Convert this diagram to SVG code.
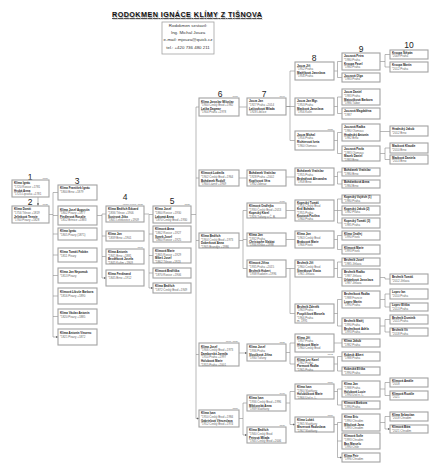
<svg xmlns="http://www.w3.org/2000/svg" width="438" height="471" viewBox="0 0 438 471">
<defs>
<marker id="ar" markerWidth="2.4" markerHeight="2.4" refX="2.2" refY="1.2" orient="auto" markerUnits="userSpaceOnUse"><path d="M0,0L2.4,1.2L0,2.4z" fill="#666"/></marker>
</defs>
<style>
.bx{fill:#fff;stroke:#a2a2a2;stroke-width:1.1}
.t{font-family:"Liberation Sans",Arial,sans-serif;font-size:2.9px;fill:#666}
.b{font-weight:bold;fill:#222}
.num{font-family:"Liberation Sans",Arial,sans-serif;font-size:8.5px;fill:#222;text-anchor:middle}
.yr{font-family:"Liberation Sans",Arial,sans-serif;font-size:2.5px;fill:#777;text-anchor:end}
.c{fill:none;stroke:#8a8a8a;stroke-width:0.6}
.a{fill:none;stroke:#8a8a8a;stroke-width:0.6;marker-end:url(#ar)}
.ttl{font-family:"Liberation Sans",Arial,sans-serif;font-size:7.2px;font-weight:bold;text-anchor:middle;text-decoration:underline}
.inf{font-family:"Liberation Sans",Arial,sans-serif;font-size:4.4px;fill:#333;text-anchor:middle}
</style>
<rect width="438" height="471" fill="#fff"/>
<g id="title">
<text class="ttl" x="187.8" y="17.8" fill="#bbb" textLength="150">RODOKMEN IGNÁCE KLÍMY Z TIŠNOVA</text>
<text class="ttl" x="187" y="17" fill="#111" textLength="150">RODOKMEN IGNÁCE KLÍMY Z TIŠNOVA</text>
</g>
<g id="info">
<rect x="162" y="22" width="52" height="32" fill="#fff" stroke="#a2a2a2" stroke-width="0.8"/>
<text class="inf" x="188" y="27">Rodokmen sestavil:</text>
<text class="inf" x="188" y="34">Ing. Michal Jouza</text>
<text class="inf" x="188" y="41">e-mail: mjouza@quick.cz</text>
<text class="inf" x="188" y="48.5">tel.: +420 736 480 211</text>
</g>
<g id="numbers">
<text class="num" x="30" y="179.5">1</text>
<text class="num" x="30" y="205">2</text>
<text class="num" x="77" y="184">3</text>
<text class="num" x="125" y="200">4</text>
<text class="num" x="172" y="204">5</text>
<text class="num" x="220" y="97">6</text>
<text class="num" x="264" y="97">7</text>
<text class="num" x="314" y="61">8</text>
<text class="num" x="361" y="51.5">9</text>
<text class="num" x="409" y="48">10</text>
</g>
<g id="years">
<text class="yr" x="48" y="178.5">1750</text>
<text class="yr" x="48" y="204.8">1785</text>
<text class="yr" x="143" y="204.6">Ignác Klíma, 1885</text>
<text class="yr" x="143" y="247.6">1871</text>
<text class="yr" x="190" y="205">1820</text>
<text class="yr" x="238" y="97">1651</text>
<text class="yr" x="285" y="97">1690</text>
<text class="yr" x="285" y="201.6">1950</text>
<text class="yr" x="238" y="341.6">1811, 1820</text>
<text class="yr" x="285" y="342.6">1821</text>
<text class="yr" x="238" y="408.6">1850</text>
<text class="yr" x="285" y="393.6">1900</text>
<text class="yr" x="285" y="425.6">1830</text>
<text class="yr" x="333" y="129.6">1855</text>
<text class="yr" x="333" y="355.4">1812</text>
<text class="yr" x="333" y="382.6">1850</text>
<text class="yr" x="333" y="415.6">1850</text>
</g>
<g id="connectors">
<path class="a" d="M38 197V205.5"/>
<path class="c" d="M49 214.5H53M53 192.5V337"/>
<path class="a" d="M53 192.5H58M53 215.5H58M53 234H58M53 255H58M53 275.5H58M53 296H58M53 316.5H58M53 337H58"/>
<path class="c" d="M97 215.5H102M102 214V278"/>
<path class="a" d="M102 214H106M102 236H106M102 256.5H106M102 278H106"/>
<path class="c" d="M144 214H149M149 214.5V288"/>
<path class="a" d="M149 214.5H153M149 234H153M149 255.5H153M149 273H153M149 288H153"/>
<path class="c" d="M191 214.5H196M196 107V418.5"/>
<path class="a" d="M196 107H199M196 178H199M196 240.5H199M196 354.5H199M196 418.5H199"/>
<path class="a" d="M239 107H247M239 178H247M239 353H247"/>
<path class="c" d="M239 240.5H243M243 210.5V268.5M239 418.5H243M243 403V435"/>
<path class="a" d="M243 210.5H247M243 268.5H247M243 403H247M243 435H247"/>
<path class="c" d="M286 106.5H290M290 71V140.5M286 268.5H290M290 268.5V313.5M286 352.5H290M290 343V364M286 403H290M290 391.5V424.5"/>
<path class="a" d="M290 71H295M290 140.5H295M243 239.5H247M286 106.5H295M286 177H295M286 210.5H295M286 239.5H295M290 268.5H295M290 313.5H295M290 343H295M290 364H295M290 391.5H295M290 424.5H295"/>
<path class="c" d="M334 71H337.5M337.5 61.5V77.5M334 106.5H337.5M337.5 97V113.5M334 140.5H337.5M337.5 132.5V153.5M334 176.5H337.5M337.5 172V184M334 210.5H337.5M337.5 199V223M334 239.5H337.5M337.5 235.5V249.5M334 268.5H337.5M337.5 262V277.5M334 313.5H337.5M337.5 299.5V326M334 364H337.5M337.5 356.5V371M334 391.5H337.5M337.5 389V405M334 424.5H337.5M337.5 422.5V457.5"/>
<path class="a" d="M337.5 61.5H342M337.5 77.5H342M337.5 97H342M337.5 113.5H342M337.5 132.5H342M337.5 153.5H342M337.5 172H342M337.5 184H342M337.5 199H342M337.5 210.5H342M337.5 223H342M337.5 235.5H342M337.5 249.5H342M337.5 262H342M337.5 277.5H342M337.5 299.5H342M337.5 326H342M334 343H342M337.5 356.5H342M337.5 371H342M337.5 389H342M337.5 405H342M337.5 422.5H342M337.5 441H342M337.5 457.5H342"/>
<path class="c" d="M380 61.5H385M385 54.5V67M380 153.5H385M385 148V159.5M380 299.5H385M385 294V307M380 326H385M385 319.5V332M380 389H385M385 382.5V395.5M380 422.5H385M385 416.5V429M380 277.5H385M385 277.5V279"/>
<path class="a" d="M385 54.5H390M385 67H390M380 131.5H390M385 148H390M385 159.5H390M385 279H390M385 294H390M385 307H390M385 319.5H390M385 332H390M385 382.5H390M385 395.5H390M385 416.5H390M385 429H390"/>
</g>
<g id="n1" transform="translate(12,180)"><rect class="bx" width="37" height="17"/><text class="t" y="4.3"><tspan class="b" x="2">Klíma Ignác</tspan><tspan x="2" dy="3.6">*1720 Rosice +1781</tspan><tspan class="b" x="2" dy="3.6">Hrubá Anna</tspan><tspan x="2" dy="3.6">*1725 Lipůvka +1781</tspan></text></g>
<g id="n2" transform="translate(12,206)"><rect class="bx" width="37" height="17"/><text class="t" y="4.3"><tspan class="b" x="2">Klíma Donát</tspan><tspan x="2" dy="3.6">*1756 Tišnov +1819</tspan><tspan class="b" x="2" dy="3.6">Jelínková Terezie</tspan><tspan x="2" dy="3.6">*1760 Pisary +1828</tspan></text></g>
<g id="n3a" transform="translate(58,185)"><rect class="bx" width="39" height="15"/><text class="t" y="4.3"><tspan class="b" x="2">Klíma František Ignác</tspan><tspan x="2" dy="3.6">*1800 Brno +1879</tspan></text></g>
<g id="n3b" transform="translate(58,206)"><rect class="bx" width="39" height="19"/><text class="t" y="4.5"><tspan class="b" x="2">Klíma Josef Augustin</tspan><tspan x="2" dy="3.6">*1802 Pisary +1877</tspan><tspan class="b" x="2" dy="3.6">Fiedlerová Rosalie</tspan><tspan x="2" dy="3.6">*1812 Brtnice +1883</tspan></text></g>
<g id="n3c" transform="translate(58,228)"><rect class="bx" width="39" height="12"/><text class="t" y="4.3"><tspan class="b" x="2">Klíma Ignác</tspan><tspan x="2" dy="3.6">*1805 Pisary (1871)</tspan></text></g>
<g id="n3d" transform="translate(58,248)"><rect class="bx" width="39" height="14"/><text class="t" y="5.3"><tspan class="b" x="2">Klíma Tomáš Fabián</tspan><tspan x="2" dy="3.6">*1811 Pisary</tspan></text></g>
<g id="n3e" transform="translate(58,268)"><rect class="bx" width="39" height="15"/><text class="t" y="5.3"><tspan class="b" x="2">Klíma Jan Nepomuk</tspan><tspan x="2" dy="3.6">*1813 Pisary</tspan></text></g>
<g id="n3f" transform="translate(58,288)"><rect class="bx" width="39" height="16"/><text class="t" y="5.3"><tspan class="b" x="2">Klímová Libuše Barbora</tspan><tspan x="2" dy="3.6">*1816 Pisary +1890</tspan></text></g>
<g id="n3g" transform="translate(58,309)"><rect class="bx" width="39" height="15"/><text class="t" y="5.3"><tspan class="b" x="2">Klíma Václav Antonín</tspan><tspan x="2" dy="3.6">*1820 Pisary +1885</tspan></text></g>
<g id="n3h" transform="translate(58,329)"><rect class="bx" width="39" height="16"/><text class="t" y="5.3"><tspan class="b" x="2">Klíma Antonín Vincenc</tspan><tspan x="2" dy="3.6">*1821 Pisary +1872</tspan></text></g>
<g id="n4a" transform="translate(106,206)"><rect class="bx" width="38" height="16"/><text class="t" y="4.3"><tspan class="b" x="2">Klíma Bedřich Eduard</tspan><tspan x="2" dy="3.6">*1836 Tišnov +1906</tspan><tspan class="b" x="2" dy="3.6">Šustrová Jitka</tspan><tspan x="2" dy="3.6">*1841 Lelekovice +1909</tspan></text></g>
<g id="n4b" transform="translate(106,231)"><rect class="bx" width="38" height="10"/><text class="t" y="4.3"><tspan class="b" x="2">Klíma Jan</tspan><tspan x="2" dy="3.6">*1839 Brno +1901</tspan></text></g>
<g id="n4c" transform="translate(106,249)"><rect class="bx" width="38" height="15"/><text class="t" y="4"><tspan class="b" x="2">Klíma Antonín</tspan><tspan x="2" dy="3.5">*1841 Brno +1881</tspan><tspan class="b" x="2" dy="3.5">Bezděková Josefa</tspan><tspan x="2" dy="3.5">*1845 Kuřim +1909</tspan></text></g>
<g id="n4d" transform="translate(106,270)"><rect class="bx" width="38" height="16"/><text class="t" y="5.3"><tspan class="b" x="2">Klíma Ferdinand</tspan><tspan x="2" dy="3.6">*1845 Brno +1912</tspan></text></g>
<g id="n5a" transform="translate(153,206)"><rect class="bx" width="38" height="17"/><text class="t" y="4.3"><tspan class="b" x="2">Klíma Josef</tspan><tspan x="2" dy="3.6">*1860 Rosice +1930</tspan><tspan class="b" x="2" dy="3.6">Lakomá Anna</tspan><tspan x="2" dy="3.6">*1870 Český Brod +1930</tspan></text></g>
<g id="n5b" transform="translate(153,226)"><rect class="bx" width="38" height="16"/><text class="t" y="4.3"><tspan class="b" x="2">Klímová Anna</tspan><tspan x="2" dy="3.6">*1862 Rosice +1927</tspan><tspan class="b" x="2" dy="3.6">Synek Josef</tspan><tspan x="2" dy="3.6">*1860 Rosice +1925</tspan></text></g>
<g id="n5c" transform="translate(153,248)"><rect class="bx" width="38" height="15"/><text class="t" y="4"><tspan class="b" x="2">Klímová Marie</tspan><tspan x="2" dy="3.5">*1865 Rosice +1929</tspan><tspan class="b" x="2" dy="3.5">Mikeš Josef</tspan><tspan x="2" dy="3.5">*1862 Tišnov +1923</tspan></text></g>
<g id="n5d" transform="translate(153,268)"><rect class="bx" width="38" height="10"/><text class="t" y="4.3"><tspan class="b" x="2">Klímová Bedřiška</tspan><tspan x="2" dy="3.6">*1870 Rosice +1906</tspan></text></g>
<g id="n5e" transform="translate(153,283)"><rect class="bx" width="38" height="10"/><text class="t" y="4.3"><tspan class="b" x="2">Klíma Bedřich</tspan><tspan x="2" dy="3.6">*1872 Český Brod +1949</tspan></text></g>
<g id="n6a" transform="translate(199,98)"><rect class="bx" width="40" height="18"/><text class="t" y="4.6"><tspan class="b" x="2">Klíma Jaroslav Miloslav</tspan><tspan x="2" dy="3.6">*1900 Český Brod +1982</tspan><tspan class="b" x="2" dy="3.6">Laška Dagmar</tspan><tspan x="2" dy="3.6">*1904 Praha +1978</tspan></text></g>
<g id="n6b" transform="translate(199,170)"><rect class="bx" width="40" height="16"/><text class="t" y="4.3"><tspan class="b" x="2">Klímová Ludmila</tspan><tspan x="2" dy="3.6">*1902 Český Brod +1964</tspan><tspan class="b" x="2" dy="3.6">Bohdanek Rudolf</tspan><tspan x="2" dy="3.6">*1900 Lázně +1969</tspan></text></g>
<g id="n6c" transform="translate(199,233)"><rect class="bx" width="40" height="15"/><text class="t" y="4"><tspan class="b" x="2">Klíma Bedřich</tspan><tspan x="2" dy="3.5">*1904 Český Brod +1973</tspan><tspan class="b" x="2" dy="3.5">Doberková Anna</tspan><tspan x="2" dy="3.5">*1905 Brandýs +1986</tspan></text></g>
<g id="n6d" transform="translate(199,343)"><rect class="bx" width="40" height="23"/><text class="t" y="4.6"><tspan class="b" x="2">Klíma Josef</tspan><tspan x="2" dy="3.6">*1906 Český Brod +1973</tspan><tspan class="b" x="2" dy="3.6">Damborská Jarmila</tspan><tspan x="2" dy="3.6">*1910 Praha +1997</tspan><tspan class="b" x="2" dy="3.6">Holubová Marie</tspan><tspan x="2" dy="3.6">*1915 Praha +2001</tspan></text></g>
<g id="n6e" transform="translate(199,410)"><rect class="bx" width="40" height="17"/><text class="t" y="4.3"><tspan class="b" x="2">Klíma Ivan</tspan><tspan x="2" dy="3.6">*1910 Český Brod +1984</tspan><tspan class="b" x="2" dy="3.6">Gabrielová Věnceslava</tspan><tspan x="2" dy="3.6">*1912 Český Brod +1974</tspan></text></g>
<g id="n7a" transform="translate(247,98)"><rect class="bx" width="39" height="17"/><text class="t" y="4.3"><tspan class="b" x="2">Jouza Jan</tspan><tspan x="2" dy="3.6">*1927 Praha +2014</tspan><tspan class="b" x="2" dy="3.6">Laštovková Milada</tspan><tspan x="2" dy="3.6">*1928 Libčice</tspan></text></g>
<g id="n7b" transform="translate(247,170)"><rect class="bx" width="39" height="16"/><text class="t" y="4.3"><tspan class="b" x="2">Bohdanek Vratislav</tspan><tspan x="2" dy="3.6">*1928 Praha +2002</tspan><tspan class="b" x="2" dy="3.6">Kopřivová Věra</tspan><tspan x="2" dy="3.6">*1932 Zderaz</tspan></text></g>
<g id="n7c" transform="translate(247,203)"><rect class="bx" width="39" height="15"/><text class="t" y="4"><tspan class="b" x="2">Klímová Ondřejka</tspan><tspan x="2" dy="3.5">*1930 Český Brod +2013</tspan><tspan class="b" x="2" dy="3.5">Kopecký Karel</tspan><tspan x="2" dy="3.5">*1926 Tuřany u Č. B.</tspan></text></g>
<g id="n7d" transform="translate(247,233)"><rect class="bx" width="39" height="13"/><text class="t" y="3.4"><tspan class="b" x="2">Klíma Jan</tspan><tspan x="2" dy="3.1">*1932 Praha</tspan><tspan class="b" x="2" dy="3.1">Christophe Slabiat</tspan><tspan x="2" dy="3.1">*1936 Krško +1998</tspan></text></g>
<g id="n7e" transform="translate(247,260)"><rect class="bx" width="39" height="17"/><text class="t" y="4.3"><tspan class="b" x="2">Klímová Jiřina</tspan><tspan x="2" dy="3.6">*1935 Praha +2015</tspan><tspan class="b" x="2" dy="3.6">Bechník Hubert</tspan><tspan x="2" dy="3.6">*1938 Radotín +1996</tspan></text></g>
<g id="n7f" transform="translate(247,344)"><rect class="bx" width="39" height="17"/><text class="t" y="4.3"><tspan class="b" x="2">Klíma Josef</tspan><tspan x="2" dy="3.6">*1936 Praha</tspan><tspan class="b" x="2" dy="3.6">Sloučková Jiřina</tspan><tspan x="2" dy="3.6">*1930 Tuřany</tspan></text></g>
<g id="n7g" transform="translate(247,395)"><rect class="bx" width="39" height="16"/><text class="t" y="4.3"><tspan class="b" x="2">Klíma Ivan</tspan><tspan x="2" dy="3.6">*1936 Český Brod +1996</tspan><tspan class="b" x="2" dy="3.6">Mikšovská Anna</tspan><tspan x="2" dy="3.6">*1939 Slatiňany</tspan></text></g>
<g id="n7h" transform="translate(247,427)"><rect class="bx" width="39" height="16"/><text class="t" y="4.3"><tspan class="b" x="2">Klíma Bedřich</tspan><tspan x="2" dy="3.6">*1940 Český Brod</tspan><tspan class="b" x="2" dy="3.6">Petrová Milada</tspan><tspan x="2" dy="3.6">*1945 Český Brod +2006</tspan></text></g>
<g id="n8a" transform="translate(295,62)"><rect class="bx" width="39" height="18"/><text class="t" y="4.6"><tspan class="b" x="2">Jouza Jiří</tspan><tspan x="2" dy="3.6">*1952 Praha</tspan><tspan class="b" x="2" dy="3.6">Matějková Jaroslava</tspan><tspan x="2" dy="3.6">*1956 Praha</tspan></text></g>
<g id="n8b" transform="translate(295,98)"><rect class="bx" width="39" height="17"/><text class="t" y="4.3"><tspan class="b" x="2">Jouza Jan Mgr.</tspan><tspan x="2" dy="3.6">*1953 Praha</tspan><tspan class="b" x="2" dy="3.6">Masková Jaroslava</tspan><tspan x="2" dy="3.6">*1956 Kolín</tspan></text></g>
<g id="n8c" transform="translate(295,131)"><rect class="bx" width="39" height="19"/><text class="t" y="4.6"><tspan class="b" x="2">Jouza Michal</tspan><tspan x="2" dy="3.7">*1956 Praha</tspan><tspan class="b" x="2" dy="3.7">Richterová Iveta</tspan><tspan x="2" dy="3.7">*1960 Olomouc</tspan></text></g>
<g id="n8d" transform="translate(295,168)"><rect class="bx" width="39" height="17"/><text class="t" y="4.3"><tspan class="b" x="2">Bohdanek Vratislav</tspan><tspan x="2" dy="3.6">*1955 Praha</tspan><tspan class="b" x="2" dy="3.6">Bednářová Alexandra</tspan><tspan x="2" dy="3.6">*1958 Brno</tspan></text></g>
<g id="n8e" transform="translate(295,200)"><rect class="bx" width="39" height="21"/><text class="t" y="3.6"><tspan class="b" x="2">Kopecký Tomáš</tspan><tspan x="2" dy="3.3">*1956 Český Brod</tspan><tspan class="b" x="2" dy="3.3">Král Bohdan</tspan><tspan x="2" dy="3.3">*1955 Praha</tspan><tspan class="b" x="2" dy="3.3">Koutová Pavlína</tspan><tspan x="2" dy="3.3">*1960 Praha</tspan></text></g>
<g id="n8f" transform="translate(295,231)"><rect class="bx" width="39" height="17"/><text class="t" y="4.3"><tspan class="b" x="2">Klíma Jan</tspan><tspan x="2" dy="3.6">*1963 Český Brod</tspan><tspan class="b" x="2" dy="3.6">Brabcová Marie</tspan><tspan x="2" dy="3.6">*1966 Písek</tspan></text></g>
<g id="n8g" transform="translate(295,260)"><rect class="bx" width="39" height="17"/><text class="t" y="4.3"><tspan class="b" x="2">Bechník Jiří</tspan><tspan x="2" dy="3.6">*1960 Český Brod</tspan><tspan class="b" x="2" dy="3.6">Šimráková Vlasta</tspan><tspan x="2" dy="3.6">*1961 Jihlava</tspan></text></g>
<g id="n8h" transform="translate(295,304)"><rect class="bx" width="39" height="19"/><text class="t" y="3.8"><tspan class="b" x="2">Bechník Zdeněk</tspan><tspan x="2" dy="3.6">*1963 Praha</tspan><tspan class="b" x="2" dy="3.6">Pospíšilová Marcela</tspan><tspan x="2" dy="3.6">*1966 Praha</tspan><tspan x="2" dy="3.6">m. 1991</tspan></text></g>
<g id="n8i" transform="translate(295,334)"><rect class="bx" width="39" height="18"/><text class="t" y="4.6"><tspan class="b" x="2">Klíma Jiří</tspan><tspan x="2" dy="3.6">*1957 Praha</tspan><tspan class="b" x="2" dy="3.6">Hřebcová Marie</tspan><tspan x="2" dy="3.6">*1960 Český Brod</tspan></text></g>
<g id="n8j" transform="translate(295,357)"><rect class="bx" width="39" height="14"/><text class="t" y="3.6"><tspan class="b" x="2">Klíma Lev Karel</tspan><tspan x="2" dy="3.3">*1962 Praha</tspan><tspan class="b" x="2" dy="3.3">Parmová Radka</tspan><tspan x="2" dy="3.3">*1965 Praha</tspan></text></g>
<g id="n8k" transform="translate(295,384)"><rect class="bx" width="39" height="15"/><text class="t" y="4"><tspan class="b" x="2">Klíma Ivan</tspan><tspan x="2" dy="3.5">*1960 Slatiňany</tspan><tspan class="b" x="2" dy="3.5">Holubičková Marie</tspan><tspan x="2" dy="3.5">*1966 Ústí n. L.</tspan></text></g>
<g id="n8l" transform="translate(295,417)"><rect class="bx" width="39" height="15"/><text class="t" y="4"><tspan class="b" x="2">Klíma Lukáš</tspan><tspan x="2" dy="3.5">*1965 Slatiňany</tspan><tspan class="b" x="2" dy="3.5">Mezerová Radoslava</tspan><tspan x="2" dy="3.5">*1967 Slatiňany</tspan></text></g>
<g id="n9a" transform="translate(342,53)"><rect class="bx" width="38" height="17"/><text class="t" y="4.3"><tspan class="b" x="2">Jouzová Petra</tspan><tspan x="2" dy="3.6">*1980 Praha</tspan><tspan class="b" x="2" dy="3.6">Kroupa Pavel</tspan><tspan x="2" dy="3.6">*1980 Praha</tspan></text></g>
<g id="n9b" transform="translate(342,73)"><rect class="bx" width="38" height="9"/><text class="t" y="3.8"><tspan class="b" x="2">Jouzová Olga</tspan><tspan x="2" dy="3.5">*1983 Praha</tspan></text></g>
<g id="n9c" transform="translate(342,89)"><rect class="bx" width="38" height="16"/><text class="t" y="4.3"><tspan class="b" x="2">Jouza Daniel</tspan><tspan x="2" dy="3.6">*1983 Praha</tspan><tspan class="b" x="2" dy="3.6">Matoušková Barbora</tspan><tspan x="2" dy="3.6">*1986 Tábor</tspan></text></g>
<g id="n9d" transform="translate(342,108)"><rect class="bx" width="38" height="11"/><text class="t" y="4.3"><tspan class="b" x="2">Jouzová Magdaléna</tspan><tspan x="2" dy="3.6">*1987</tspan></text></g>
<g id="n9e" transform="translate(342,124)"><rect class="bx" width="38" height="17"/><text class="t" y="4.3"><tspan class="b" x="2">Jouzová Radka</tspan><tspan x="2" dy="3.6">*1980 Olomouc</tspan><tspan class="b" x="2" dy="3.6">Hradecký Antonín</tspan><tspan x="2" dy="3.6">*1982 Brno</tspan></text></g>
<g id="n9f" transform="translate(342,146)"><rect class="bx" width="38" height="15"/><text class="t" y="4"><tspan class="b" x="2">Jouzová Pavla</tspan><tspan x="2" dy="3.5">*1983 Olomouc</tspan><tspan class="b" x="2" dy="3.5">Macek Daniel</tspan><tspan x="2" dy="3.5">*1983 Brno</tspan></text></g>
<g id="n9g" transform="translate(342,168)"><rect class="bx" width="38" height="8"/><text class="t" y="3.3"><tspan class="b" x="2">Bohdanek Vratislav</tspan><tspan x="2" dy="3.4">*1980 Brno</tspan></text></g>
<g id="n9h" transform="translate(342,180)"><rect class="bx" width="38" height="8"/><text class="t" y="3.3"><tspan class="b" x="2">Bohdanková Anna</tspan><tspan x="2" dy="3.4">*1984 Brno</tspan></text></g>
<g id="n9i" transform="translate(342,195)"><rect class="bx" width="38" height="8"/><text class="t" y="3.3"><tspan class="b" x="2">Kopecký Vojtěch (1)</tspan><tspan x="2" dy="3.4">*1980 Praha</tspan></text></g>
<g id="n9j" transform="translate(342,206)"><rect class="bx" width="38" height="9"/><text class="t" y="3.8"><tspan class="b" x="2">Kopecký Jakub (2)</tspan><tspan x="2" dy="3.5">*1982 Praha</tspan></text></g>
<g id="n9k" transform="translate(342,218)"><rect class="bx" width="38" height="10"/><text class="t" y="4.3"><tspan class="b" x="2">Kopecký Tomáš (3)</tspan><tspan x="2" dy="3.6">*1985 Praha</tspan></text></g>
<g id="n9l" transform="translate(342,231)"><rect class="bx" width="38" height="9"/><text class="t" y="3.8"><tspan class="b" x="2">Klíma Ondřej</tspan><tspan x="2" dy="3.5">*1990 Písek</tspan></text></g>
<g id="n9m" transform="translate(342,245)"><rect class="bx" width="38" height="9"/><text class="t" y="3.8"><tspan class="b" x="2">Klímová Marie</tspan><tspan x="2" dy="3.5">*1993 Písek</tspan></text></g>
<g id="n9n" transform="translate(342,258)"><rect class="bx" width="38" height="8"/><text class="t" y="3.3"><tspan class="b" x="2">Bechník Josef</tspan><tspan x="2" dy="3.4">*1985 Jihlava</tspan></text></g>
<g id="n9o" transform="translate(342,269)"><rect class="bx" width="38" height="17"/><text class="t" y="4.3"><tspan class="b" x="2">Bechník Radko</tspan><tspan x="2" dy="3.6">*1987 Jihlava</tspan><tspan class="b" x="2" dy="3.6">Urbánková Jaroslava</tspan><tspan x="2" dy="3.6">*1987 Jihlava</tspan></text></g>
<g id="n9p" transform="translate(342,291)"><rect class="bx" width="38" height="17"/><text class="t" y="4.3"><tspan class="b" x="2">Bechníková Radka</tspan><tspan x="2" dy="3.6">*1988 Francie</tspan><tspan class="b" x="2" dy="3.6">Lopez Martin</tspan><tspan x="2" dy="3.6">*1990 Praha</tspan></text></g>
<g id="n9q" transform="translate(342,318)"><rect class="bx" width="38" height="16"/><text class="t" y="4.3"><tspan class="b" x="2">Bechník Matěj</tspan><tspan x="2" dy="3.6">*1990 Praha</tspan><tspan class="b" x="2" dy="3.6">Bechníková Adéla</tspan><tspan x="2" dy="3.6">*1993 Praha</tspan></text></g>
<g id="n9r" transform="translate(342,339)"><rect class="bx" width="38" height="8"/><text class="t" y="3.3"><tspan class="b" x="2">Klíma Jakub</tspan><tspan x="2" dy="3.4">*1982 Praha</tspan></text></g>
<g id="n9s" transform="translate(342,352)"><rect class="bx" width="38" height="9"/><text class="t" y="3.8"><tspan class="b" x="2">Kubeck Albert</tspan><tspan x="2" dy="3.5">*1988 Praha</tspan></text></g>
<g id="n9t" transform="translate(342,367)"><rect class="bx" width="38" height="8"/><text class="t" y="3.3"><tspan class="b" x="2">Kubecká Eliška</tspan><tspan x="2" dy="3.4">*1990 Praha</tspan></text></g>
<g id="n9u" transform="translate(342,381)"><rect class="bx" width="38" height="16"/><text class="t" y="4.3"><tspan class="b" x="2">Klíma Jan</tspan><tspan x="2" dy="3.6">*1988 Praha</tspan><tspan class="b" x="2" dy="3.6">Holubová Lucie</tspan><tspan x="2" dy="3.6">*1990 Ústí n. L.</tspan></text></g>
<g id="n9v" transform="translate(342,401)"><rect class="bx" width="38" height="8"/><text class="t" y="3.3"><tspan class="b" x="2">Klímová Barbora</tspan><tspan x="2" dy="3.4">*1990 Praha</tspan></text></g>
<g id="n9w" transform="translate(342,414)"><rect class="bx" width="38" height="17"/><text class="t" y="4.3"><tspan class="b" x="2">Klíma Eric</tspan><tspan x="2" dy="3.6">*1990 Chrudim</tspan><tspan class="b" x="2" dy="3.6">Mikulová Jana</tspan><tspan x="2" dy="3.6">*1993 Chrudim</tspan></text></g>
<g id="n9x" transform="translate(342,433)"><rect class="bx" width="38" height="16"/><text class="t" y="4.3"><tspan class="b" x="2">Klímová Sofie</tspan><tspan x="2" dy="3.6">*1993 Chrudim</tspan><tspan class="b" x="2" dy="3.6">Bas Marcelo</tspan><tspan x="2" dy="3.6">*1990 Chile</tspan></text></g>
<g id="n9y" transform="translate(342,453)"><rect class="bx" width="38" height="9"/><text class="t" y="3.8"><tspan class="b" x="2">Klíma Petr</tspan><tspan x="2" dy="3.5">*1996 Chrudim</tspan></text></g>
<g id="n10a" transform="translate(390,50)"><rect class="bx" width="38" height="9"/><text class="t" y="3.8"><tspan class="b" x="2">Kroupa Štěpán</tspan><tspan x="2" dy="3.5">*2009 Praha</tspan></text></g>
<g id="n10b" transform="translate(390,62)"><rect class="bx" width="38" height="10"/><text class="t" y="4.3"><tspan class="b" x="2">Kroupa Martin</tspan><tspan x="2" dy="3.6">*2012 Praha</tspan></text></g>
<g id="n10c" transform="translate(390,126)"><rect class="bx" width="38" height="10"/><text class="t" y="4.3"><tspan class="b" x="2">Hradecký Jakub</tspan><tspan x="2" dy="3.6">*2012 Brno</tspan></text></g>
<g id="n10d" transform="translate(390,143)"><rect class="bx" width="38" height="10"/><text class="t" y="4.3"><tspan class="b" x="2">Macková Klaudie</tspan><tspan x="2" dy="3.6">*2010 Brno</tspan></text></g>
<g id="n10e" transform="translate(390,155)"><rect class="bx" width="38" height="9"/><text class="t" y="3.8"><tspan class="b" x="2">Macková Daniela</tspan><tspan x="2" dy="3.5">*2013 Brno</tspan></text></g>
<g id="n10f" transform="translate(390,274)"><rect class="bx" width="38" height="10"/><text class="t" y="4.3"><tspan class="b" x="2">Bechník Tomáš</tspan><tspan x="2" dy="3.6">*2012 Jihlava</tspan></text></g>
<g id="n10g" transform="translate(390,289)"><rect class="bx" width="38" height="10"/><text class="t" y="4.3"><tspan class="b" x="2">Lopez Ian</tspan><tspan x="2" dy="3.6">*2010 Praha</tspan></text></g>
<g id="n10h" transform="translate(390,303)"><rect class="bx" width="38" height="8"/><text class="t" y="3.3"><tspan class="b" x="2">Lopez Eliška</tspan><tspan x="2" dy="3.4">*2013 Praha</tspan></text></g>
<g id="n10i" transform="translate(390,315)"><rect class="bx" width="38" height="9"/><text class="t" y="3.8"><tspan class="b" x="2">Bechník Dominik</tspan><tspan x="2" dy="3.5">*2015 Praha</tspan></text></g>
<g id="n10j" transform="translate(390,328)"><rect class="bx" width="38" height="8"/><text class="t" y="3.3"><tspan class="b" x="2">Bechník Vít</tspan><tspan x="2" dy="3.4">*2018 Praha</tspan></text></g>
<g id="n10k" transform="translate(390,378)"><rect class="bx" width="38" height="9"/><text class="t" y="3.8"><tspan class="b" x="2">Klímová Amálie</tspan><tspan x="2" dy="3.5">*2018</tspan></text></g>
<g id="n10l" transform="translate(390,391)"><rect class="bx" width="38" height="9"/><text class="t" y="3.8"><tspan class="b" x="2">Klímová Rozálie</tspan><tspan x="2" dy="3.5">*2021</tspan></text></g>
<g id="n10m" transform="translate(390,412)"><rect class="bx" width="38" height="9"/><text class="t" y="3.8"><tspan class="b" x="2">Klíma Sebastian</tspan><tspan x="2" dy="3.5">*2018 Chrudim</tspan></text></g>
<g id="n10n" transform="translate(390,425)"><rect class="bx" width="38" height="8"/><text class="t" y="3.3"><tspan class="b" x="2">Klímová Bára</tspan><tspan x="2" dy="3.4">*2021 Chrudim</tspan></text></g>
</svg>
